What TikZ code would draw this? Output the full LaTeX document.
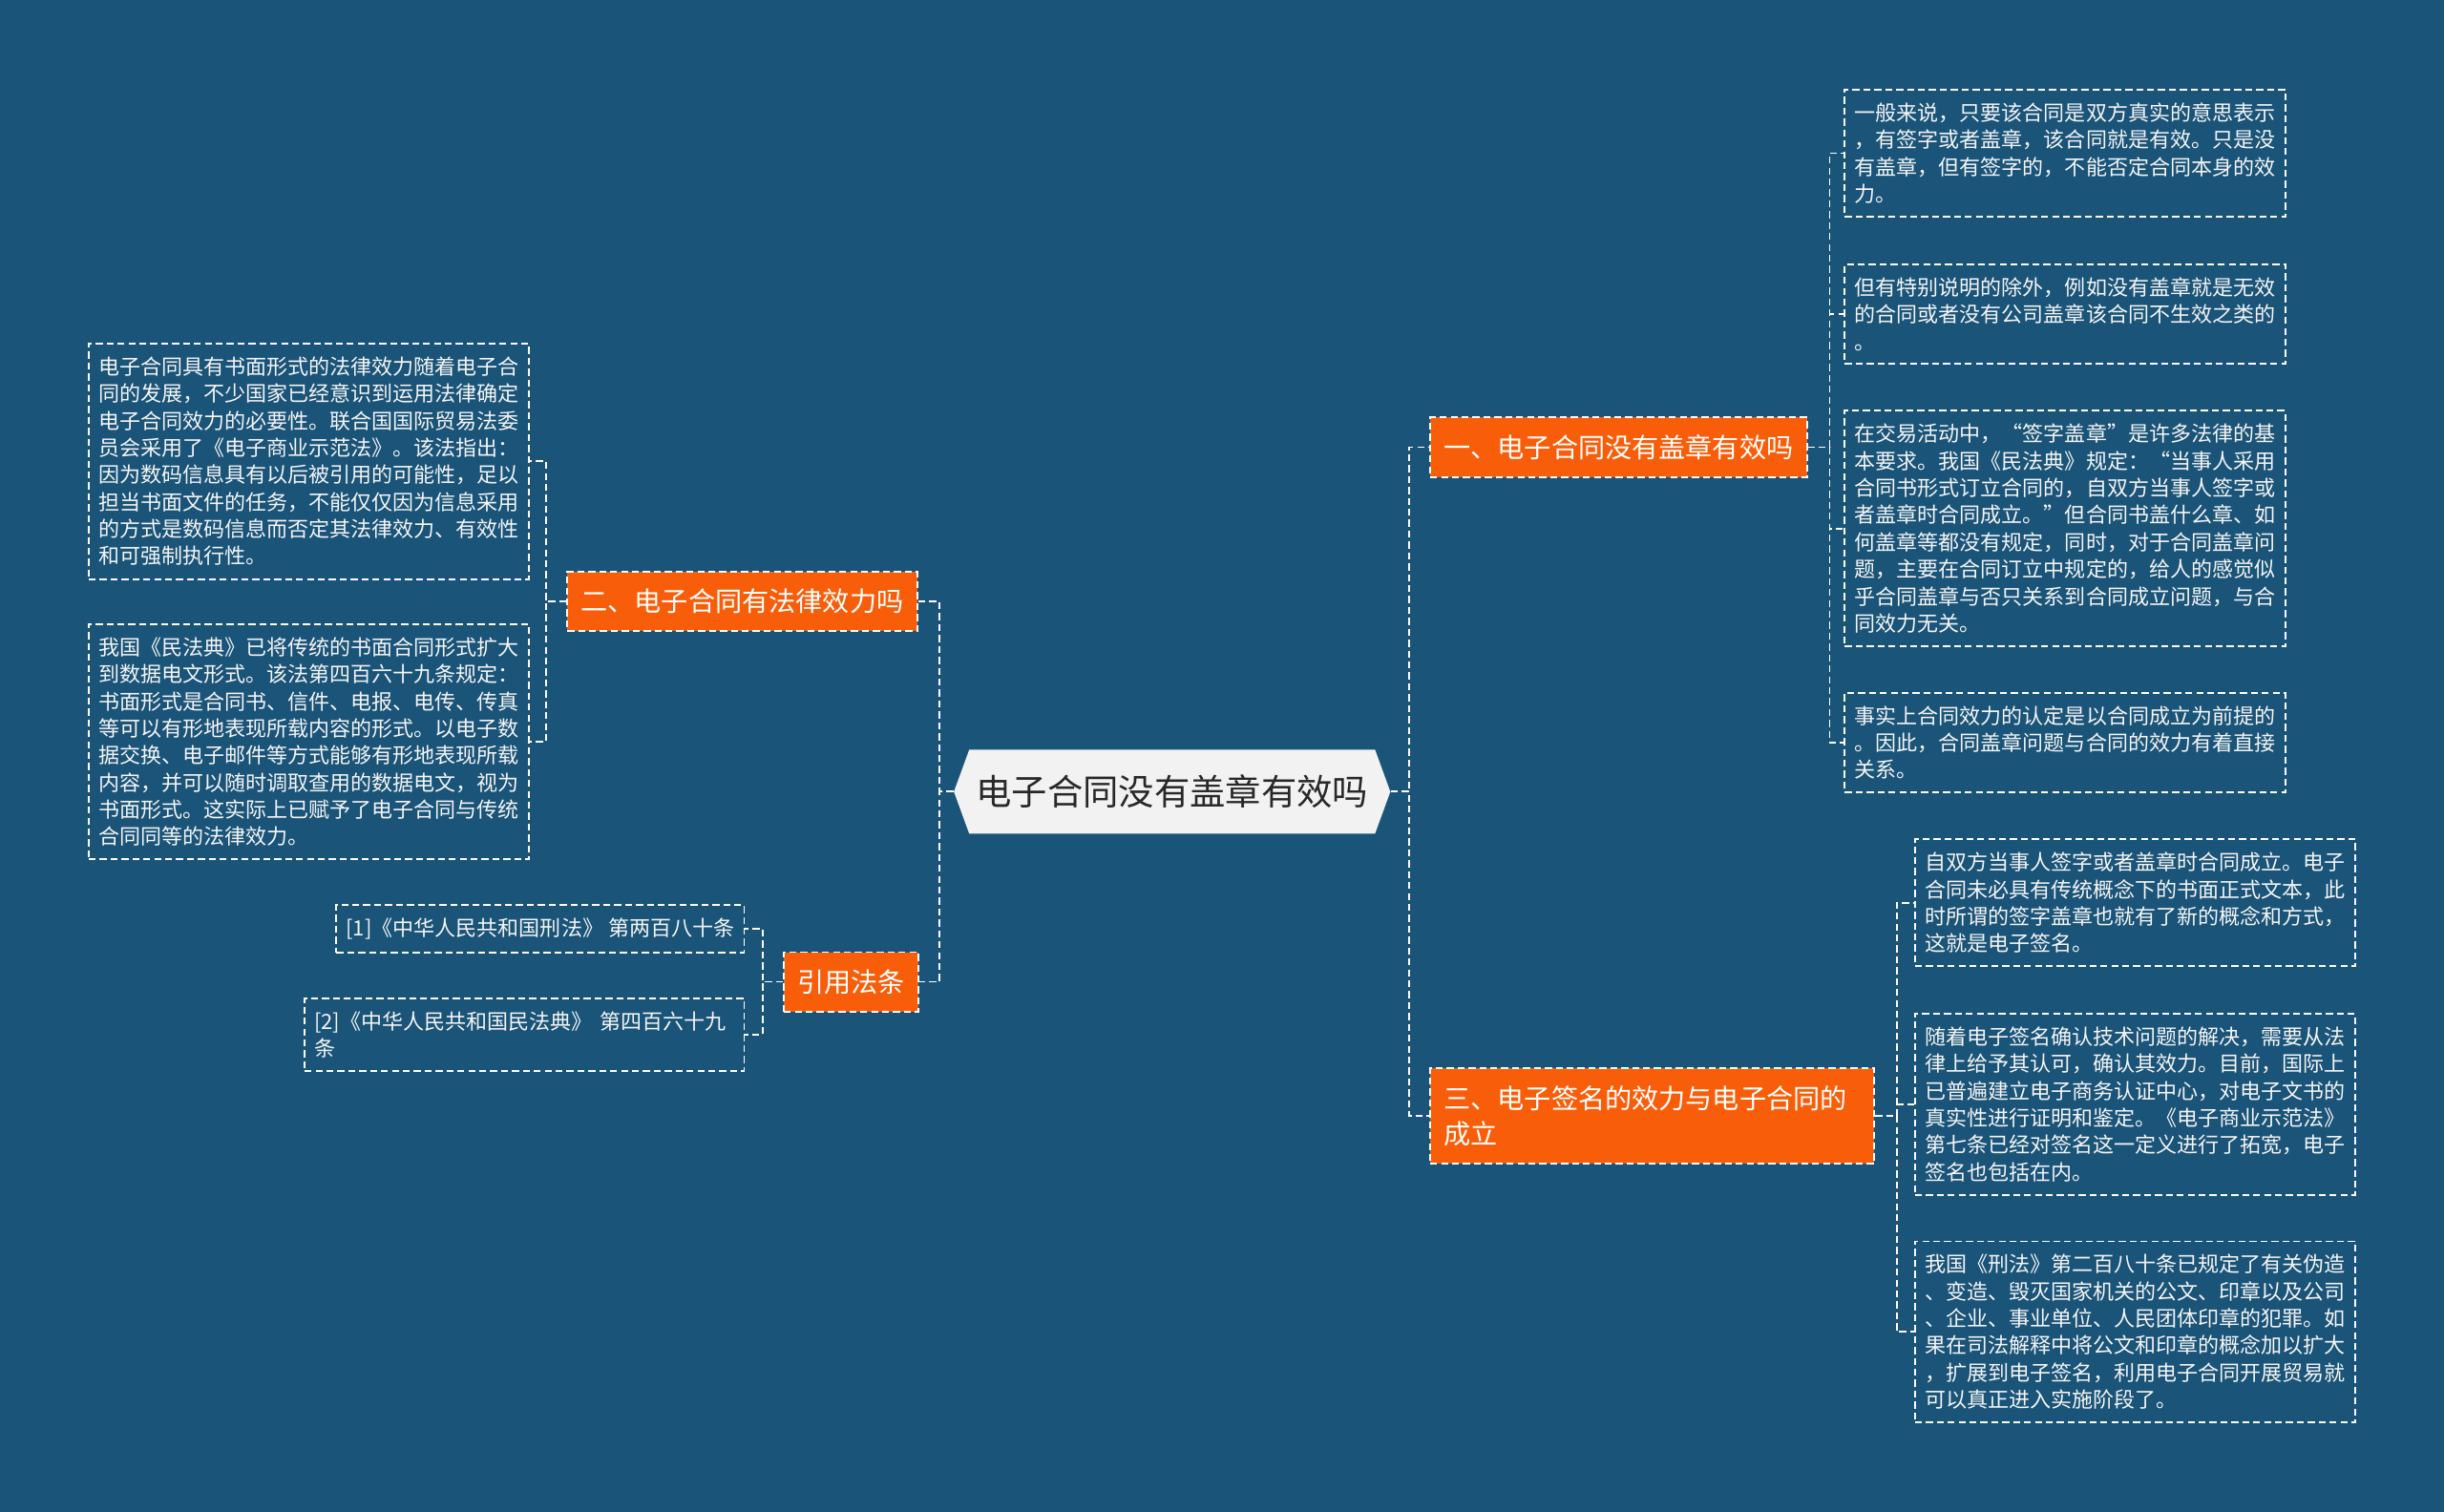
\documentclass[tikz,border=0pt]{standalone}
\usepackage{fontspec}
\setmainfont{Noto Sans CJK SC}
\usepackage{xcolor}
\usetikzlibrary{shapes.symbols}
\definecolor{bgblue}{RGB}{26,84,120}
\definecolor{topicorange}{RGB}{248,94,10}
\definecolor{rootgray}{RGB}{242,242,242}
\definecolor{rootdark}{RGB}{40,40,40}
\definecolor{leaftext}{RGB}{245,245,245}

\begin{document}
\begin{tikzpicture}[x=0.8pt, y=-0.8pt,
  link/.style={draw=white, line width=0.9pt, dash pattern=on 3.6pt off 2pt},
  root/.style={shape=signal, signal to=west and east, signal pointer angle=140,
    fill=rootgray, text=rootdark, inner sep=0pt, minimum height=43.2pt,
    minimum width=224pt, font=\fontsize{18.3}{22}\selectfont},
  topic/.style={fill=topicorange, text=white, draw=white, line width=0.9pt,
    dash pattern=on 3.6pt off 2pt, inner xsep=7pt, inner ysep=8.8pt,
    align=left, font=\fontsize{13.8}{18.4}\selectfont},
  leaf/.style={draw=white, line width=0.9pt, dash pattern=on 3.6pt off 2pt,
    text=leaftext, inner xsep=5pt, inner ysep=6.7pt, align=left,
    font=\fontsize{10.8}{13.9}\selectfont},
  wide/.style={leaf, text width=216pt}]
\useasboundingbox (0,0) rectangle (1568,970);
\fill[bgblue] (0,0) rectangle (1568,970);

\node[root] (ctr) at (752,508) {电子合同没有盖章有效吗};

% topics
\node[topic, anchor=west] (b1) at (917,287) {一、电子合同没有盖章有效吗};
\node[topic, anchor=north west, text width=214pt] (b3) at (917,685) {三、电子签名的效力与电子合同的\\成立};
\node[topic, anchor=east] (b2) at (589,386) {二、电子合同有法律效力吗};
\node[topic, anchor=east] (cite) at (590,630) {引用法条};

% leaves of b1
\node[wide, anchor=north west] (l1) at (1183,57) {一般来说，只要该合同是双方真实的意思表示\\，有签字或者盖章，该合同就是有效。只是没\\有盖章，但有签字的，不能否定合同本身的效\\力。};
\node[wide, anchor=north west] (l2) at (1183,169) {但有特别说明的除外，例如没有盖章就是无效\\的合同或者没有公司盖章该合同不生效之类的\\。};
\node[wide, anchor=north west] (l3) at (1183,263) {在交易活动中，“签字盖章”是许多法律的基\\本要求。我国《民法典》规定：“当事人采用\\合同书形式订立合同的，自双方当事人签字或\\者盖章时合同成立。”但合同书盖什么章、如\\何盖章等都没有规定，同时，对于合同盖章问\\题，主要在合同订立中规定的，给人的感觉似\\乎合同盖章与否只关系到合同成立问题，与合\\同效力无关。};
\node[wide, anchor=north west] (l4) at (1183,444) {事实上合同效力的认定是以合同成立为前提的\\。因此，合同盖章问题与合同的效力有着直接\\关系。};

% leaves of b3
\node[wide, anchor=north west] (m1) at (1228,538) {自双方当事人签字或者盖章时合同成立。电子\\合同未必具有传统概念下的书面正式文本，此\\时所谓的签字盖章也就有了新的概念和方式，\\这就是电子签名。};
\node[wide, anchor=north west] (m2) at (1228,650) {随着电子签名确认技术问题的解决，需要从法\\律上给予其认可，确认其效力。目前，国际上\\已普遍建立电子商务认证中心，对电子文书的\\真实性进行证明和鉴定。《电子商业示范法》\\第七条已经对签名这一定义进行了拓宽，电子\\签名也包括在内。};
\node[wide, anchor=north west] (m3) at (1228,796) {我国《刑法》第二百八十条已规定了有关伪造\\、变造、毁灭国家机关的公文、印章以及公司\\、企业、事业单位、人民团体印章的犯罪。如\\果在司法解释中将公文和印章的概念加以扩大\\，扩展到电子签名，利用电子合同开展贸易就\\可以真正进入实施阶段了。};

% leaves of b2
\node[wide, anchor=north east] (n1) at (340,220) {电子合同具有书面形式的法律效力随着电子合\\同的发展，不少国家已经意识到运用法律确定\\电子合同效力的必要性。联合国国际贸易法委\\员会采用了《电子商业示范法》。该法指出：\\因为数码信息具有以后被引用的可能性，足以\\担当书面文件的任务，不能仅仅因为信息采用\\的方式是数码信息而否定其法律效力、有效性\\和可强制执行性。};
\node[wide, anchor=north east] (n2) at (340,400) {我国《民法典》已将传统的书面合同形式扩大\\到数据电文形式。该法第四百六十九条规定：\\书面形式是合同书、信件、电报、电传、传真\\等可以有形地表现所载内容的形式。以电子数\\据交换、电子邮件等方式能够有形地表现所载\\内容，并可以随时调取查用的数据电文，视为\\书面形式。这实际上已赋予了电子合同与传统\\合同同等的法律效力。};

% citations
\node[leaf, anchor=east] (r1) at (478,596) {[1]《中华人民共和国刑法》 第两百八十条};
\node[leaf, anchor=north east, text width=215.6pt] (r2) at (478,640) {[2]《中华人民共和国民法典》 第四百六十九\\条};

% connectors
\draw[link] (ctr.east) -- ++(12,0) |- (b1.west);
\draw[link] (ctr.east) -- ++(12,0) |- (b3.west);
\draw[link] (ctr.west) -- ++(-9,0) |- (b2.east);
\draw[link] (ctr.west) -- ++(-9,0) |- (cite.east);
\foreach \n in {l1,l2,l3,l4}
  \draw[link] (b1.east) -- ++(14,0) |- (\n.west);
\foreach \n in {m1,m2,m3}
  \draw[link] (b3.east) -- ++(14,0) |- (\n.west);
\foreach \n in {n1,n2}
  \draw[link] (b2.west) -- ++(-13,0) |- (\n.east);
\foreach \n in {r1,r2}
  \draw[link] (cite.west) -- ++(-13,0) |- (\n.east);
\end{tikzpicture}
\end{document}
